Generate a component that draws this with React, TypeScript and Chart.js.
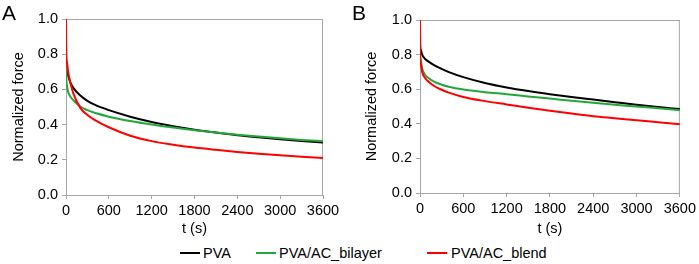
import React, { useEffect, useRef } from "react";
import { Chart, registerables } from "chart.js";

Chart.register(...registerables);

const times = [0, 2, 10, 30, 60, 100, 200, 300, 400, 600, 900, 1200, 1500, 1800, 2100, 2400, 2700, 3000, 3300, 3600];

const pvaA = [1.0, 0.8, 0.72, 0.68, 0.64, 0.61, 0.565, 0.535, 0.513, 0.482, 0.445, 0.415, 0.391, 0.371, 0.355, 0.34, 0.328, 0.317, 0.307, 0.298];
const bilayerA = [1.0, 0.72, 0.63, 0.585, 0.56, 0.54, 0.503, 0.482, 0.467, 0.445, 0.42, 0.4, 0.383, 0.368, 0.355, 0.343, 0.332, 0.322, 0.313, 0.305];
const blendA = [1.0, 0.8, 0.76, 0.7, 0.64, 0.58, 0.495, 0.455, 0.427, 0.385, 0.337, 0.306, 0.286, 0.27, 0.257, 0.245, 0.235, 0.226, 0.218, 0.21];

const pvaB = [1.0, 0.86, 0.83, 0.8, 0.78, 0.765, 0.738, 0.717, 0.699, 0.67, 0.636, 0.61, 0.589, 0.571, 0.555, 0.54, 0.525, 0.51, 0.497, 0.485];
const bilayerB = [1.0, 0.82, 0.77, 0.72, 0.69, 0.67, 0.642, 0.626, 0.614, 0.598, 0.583, 0.571, 0.558, 0.546, 0.533, 0.521, 0.51, 0.5, 0.49, 0.479];
const blendB = [1.0, 0.8, 0.75, 0.7, 0.67, 0.65, 0.617, 0.597, 0.58, 0.555, 0.531, 0.512, 0.493, 0.475, 0.459, 0.444, 0.432, 0.42, 0.409, 0.398];

const seriesNames = ["PVA", "PVA/AC_bilayer", "PVA/AC_blend"];
const seriesColors = ["#000000", "#22a83a", "#ff0000"];
const seriesOrder = [3, 2, 1];
const xTicks = [0, 600, 1200, 1800, 2400, 3000, 3600];
const yTicks = [0, 0.2, 0.4, 0.6, 0.8, 1.0];

const FONT = "'Liberation Sans', Arial, sans-serif";
const FRAME = "#a6a6a6";

type PanelProps = {
  left: number;
  width: number;
  height: number;
  area: { l: number; r: number; t: number; b: number };
  titlePad: number;
  series: number[][];
};

const framePlugin = {
  id: "frame",
  beforeDatasetsDraw(chart: any) {
    const { ctx, chartArea } = chart;
    ctx.save();
    ctx.strokeStyle = FRAME;
    ctx.lineWidth = 1;
    ctx.beginPath();
    ctx.moveTo(chartArea.left, chartArea.top + 0.5);
    ctx.lineTo(chartArea.right, chartArea.top + 0.5);
    ctx.moveTo(chartArea.right - 0.5, chartArea.top);
    ctx.lineTo(chartArea.right - 0.5, chartArea.bottom);
    ctx.stroke();
    ctx.restore();
  },
};

function Panel({ left, width, height, area, titlePad, series }: PanelProps) {
  const ref = useRef<HTMLCanvasElement | null>(null);
  useEffect(() => {
    if (!ref.current) return;
    const chart = new Chart(ref.current, {
      type: "line",
      data: {
        datasets: series.map((vals, i) => ({
          label: seriesNames[i],
          data: times.map((t, j) => ({ x: t, y: vals[j] })),
          borderColor: seriesColors[i],
          backgroundColor: seriesColors[i],
          borderWidth: 2,
          pointRadius: 0,
          order: seriesOrder[i],
          cubicInterpolationMode: "monotone" as const,
          fill: false,
        })),
      },
      options: {
        animation: false,
        responsive: false,
        devicePixelRatio: 1,
        layout: {
          padding: { left: 0, top: area.t, right: width - area.r, bottom: 0 },
        },
        plugins: { legend: { display: false }, tooltip: { enabled: false } },
        scales: {
          x: {
            type: "linear",
            min: 0,
            max: 3600,
            afterBuildTicks: (s: any) => {
              s.ticks = xTicks.map((v) => ({ value: v }));
            },
            afterFit: (s: any) => {
              s.height = height - area.b;
            },
            ticks: {
              color: "#000",
              font: { family: FONT, size: 14.5 },
              padding: 3,
              maxRotation: 0,
              autoSkip: false,
              callback: (v: any) => String(Math.round(Number(v))),
            },
            grid: { display: true, drawOnChartArea: false, drawTicks: true, tickLength: 4, color: FRAME },
            border: { display: true, color: FRAME },
            title: {
              display: true,
              text: "t (s)",
              color: "#000",
              font: { family: FONT, size: 14.5 },
              padding: { top: 0, bottom: 2 },
            },
          },
          y: {
            type: "linear",
            min: 0,
            max: 1,
            afterBuildTicks: (s: any) => {
              s.ticks = yTicks.map((v) => ({ value: v }));
            },
            afterFit: (s: any) => {
              s.width = area.l;
            },
            ticks: {
              color: "#000",
              font: { family: FONT, size: 14.5 },
              padding: 4,
              callback: (v: any) => Number(v).toFixed(1),
            },
            grid: { display: true, drawOnChartArea: false, drawTicks: true, tickLength: 4, color: FRAME },
            border: { display: true, color: FRAME },
            title: {
              display: true,
              text: "Normalized force",
              color: "#000",
              font: { family: FONT, size: 14.5 },
              padding: { top: titlePad, bottom: 0 },
            },
          },
        },
      },
      plugins: [framePlugin],
    });
    return () => chart.destroy();
  }, []);
  return (
    <canvas
      ref={ref}
      width={width}
      height={height}
      style={{ position: "absolute", left, top: 0, width, height }}
    />
  );
}

const legendItems = [
  { line: 180, text: 203 },
  { line: 256, text: 279 },
  { line: 427, text: 451 },
];

export default function App() {
  return (
    <div style={{ position: "absolute", left: 0, top: 0, width: 699, height: 264, background: "#fff", overflow: "hidden", fontFamily: FONT }}>
      <Panel left={0} width={349} height={240} area={{ l: 66, r: 323, t: 19, b: 195 }} titlePad={10} series={[pvaA, bilayerA, blendA]} />
      <Panel left={349} width={350} height={240} area={{ l: 71, r: 331, t: 20, b: 193 }} titlePad={14} series={[pvaB, bilayerB, blendB]} />
      <div style={{ position: "absolute", left: 2, top: 2, fontSize: 21, lineHeight: "21px", color: "#000" }}>A</div>
      <div style={{ position: "absolute", left: 352, top: 2, fontSize: 21, lineHeight: "21px", color: "#000" }}>B</div>
      {legendItems.map((it, i) => (
        <React.Fragment key={i}>
          <div style={{ position: "absolute", left: it.line, top: 252, width: 20, height: 2, background: seriesColors[i] }} />
          <div style={{ position: "absolute", left: it.text, top: 244, fontSize: 14.5, lineHeight: "18px", color: "#000", whiteSpace: "nowrap" }}>
            {seriesNames[i]}
          </div>
        </React.Fragment>
      ))}
    </div>
  );
}
